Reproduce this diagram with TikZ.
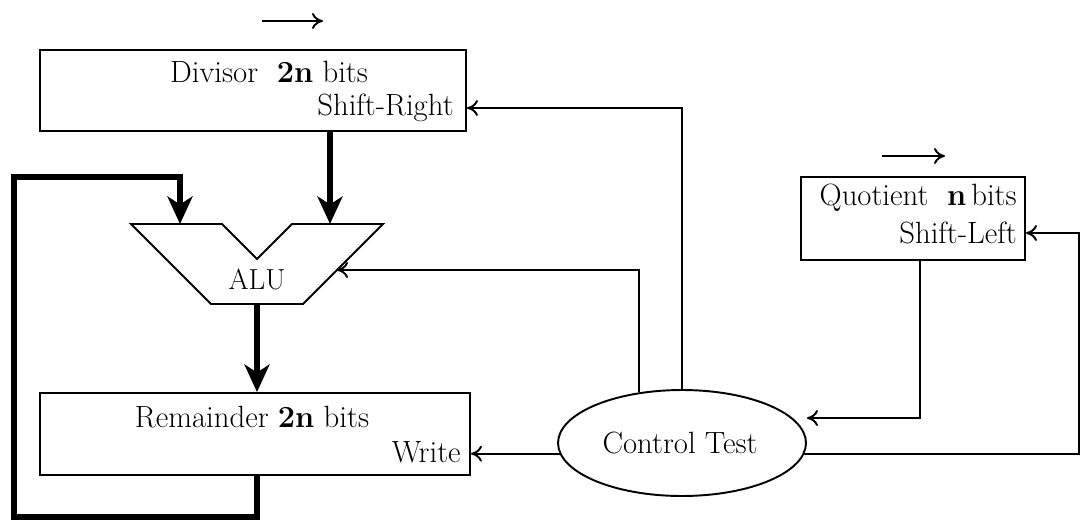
\documentclass[tikz,border=0pt]{standalone}
\usetikzlibrary{arrows.meta,shapes.geometric}
\tikzset{
  reg/.style={draw,line width=1.1pt,inner sep=0pt},
  lbl/.style={inner sep=0pt,font=\fontsize{17.5}{21}\selectfont},
  bus/.style={line width=3.2pt,-{Stealth[length=0.55cm,width=0.5cm,inset=0.16cm]}},
  sig/.style={line width=1.1pt,-{To[length=0.22cm,width=0.32cm]}},
}
\begin{document}
\begin{tikzpicture}[x=0.02cm,y=-0.02cm]
  \useasboundingbox (0,0) rectangle (1081,521);
  % registers and control
  \node[reg,minimum width=8.52cm,minimum height=1.62cm] (div) at (253,90.5) {};
  \node[reg,minimum width=8.6cm,minimum height=1.64cm] (rem) at (255,434) {};
  \node[reg,minimum width=4.48cm,minimum height=1.66cm] (quo) at (913,218.5) {};
  \node[reg,ellipse,minimum width=4.96cm,minimum height=2.12cm] (ctl) at (682,443) {};
  \node[lbl] (ctllbl) at (680,443) {Control Test};
  % labels
  \node[lbl] (divlbl) at (269,72) {Divisor\ \ \textbf{2n} bits};
  \node[lbl,anchor=east] (srlbl) at (454,108) {Shift-Right};
  \node[lbl] (remlbl) at (252,417) {Remainder \textbf{2n} bits};
  \node[lbl,anchor=east] (wrlbl) at (461,452) {Write};
  \node[lbl,anchor=east] (qlbl) at (1017,198) {Quotient\ \ \textbf{n}\,bits};
  \node[lbl,anchor=east] (sllbl) at (1017,233) {Shift-Left};
  % ALU
  \coordinate (alua) at (180,224);
  \coordinate (alub) at (330,224);
  \coordinate (aluin) at (337,270);
  \coordinate (aluout) at (257,304);
  \draw[line width=1.1pt] (131,224) -- (222,224) -- (257,259) -- (292,224)
    -- (383,224) -- (303,304) -- (211,304) -- cycle;
  \node[lbl,font=\fontsize{16.5}{20}\selectfont] (alulbl) at (257,279) {ALU};
  % shift directions
  \draw[sig] (262,21) -- (323,21);
  \draw[sig] (882,156) -- (945,156);
  % data paths
  \coordinate (loopbot) at (14,517);
  \coordinate (looptop) at (14,177);
  \draw[bus] (div.south -| alub) -- (alub);
  \draw[bus] (aluout) -- (rem.north -| aluout);
  \draw[bus] (rem.south -| aluout) |- (loopbot) |- (looptop) -| (alua);
  % control signals
  \coordinate (qright) at (1079,233);
  \draw[sig] (ctl.north) |- (div.east |- srlbl);
  \draw[sig] (ctl.130) |- (aluin);
  \draw[sig] (ctl.185) -- (ctl.185 -| rem.east);
  \draw[sig] (ctl.-5) -| (qright) -- (qright -| quo.east);
  \draw[sig] ([xshift=0.14cm]quo.south) |- ([yshift=0.5cm]ctl.east);
\end{tikzpicture}
\end{document}
